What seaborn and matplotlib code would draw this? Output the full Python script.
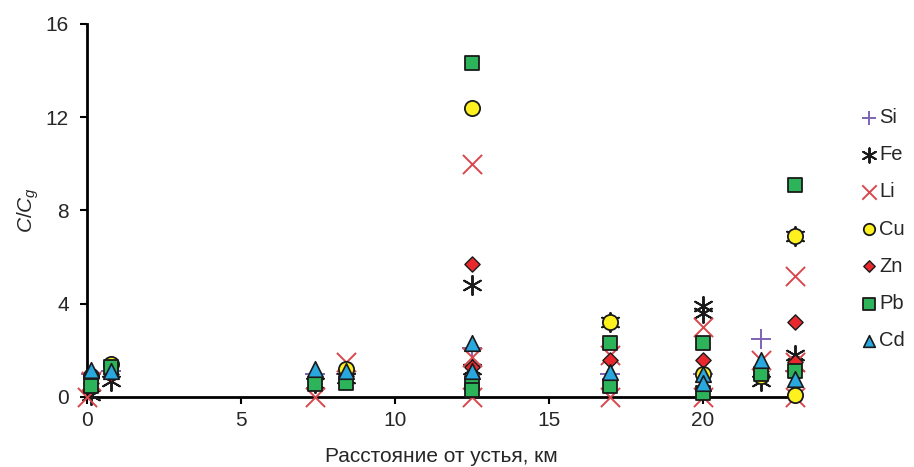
import pandas as pd
import matplotlib.pyplot as plt
import seaborn as sns

# concentrations C/Cg by distance from the river mouth (km)
si_x = [0.15, 0.8, 7.4, 8.4, 12.5, 17.0, 20.0, 21.9, 23.0]
si_y = [1.0, 1.1, 1.0, 1.0, 2.1, 1.0, 1.0, 2.5, 1.1]

fe_x = [0.15, 0.8, 7.4, 8.4, 12.5, 12.5, 17.0, 20.0, 20.0, 21.9, 23.0, 23.0]
fe_y = [0.1, 0.7, 0.6, 0.8, 4.8, 1.2, 3.2, 3.9, 3.6, 0.7, 6.9, 1.8]

li_x = [0.0, 0.15, 7.4, 8.4, 12.5, 12.5, 12.5, 17.0, 17.0, 20.0, 20.0, 21.9, 23.0, 23.0, 23.0]
li_y = [0.0, 0.7, 0.0, 1.5, 10.0, 1.7, 0.0, 1.8, 0.0, 3.0, 0.0, 1.6, 5.2, 1.5, 0.0]

cu_x = [0.15, 0.8, 8.4, 12.5, 17.0, 20.0, 21.9, 23.0, 23.0]
cu_y = [0.9, 1.4, 1.2, 12.4, 3.2, 1.0, 0.9, 6.9, 0.1]

zn_x = [0.15, 0.8, 7.4, 8.4, 12.5, 12.5, 17.0, 20.0, 21.9, 23.0, 23.0]
zn_y = [0.6, 1.0, 0.8, 0.9, 5.7, 1.3, 1.6, 1.6, 1.1, 3.2, 1.5]

pb_x = [0.15, 0.8, 7.4, 8.4, 12.5, 12.5, 12.5, 17.0, 17.0, 20.0, 20.0, 21.9, 23.0, 23.0]
pb_y = [0.45, 1.3, 0.55, 0.6, 14.3, 0.6, 0.3, 2.3, 0.45, 2.3, 0.15, 1.0, 9.1, 1.1]

cd_x = [0.15, 0.8, 7.4, 8.4, 12.5, 12.5, 17.0, 20.0, 20.0, 21.9, 23.0]
cd_y = [1.15, 1.1, 1.2, 1.1, 2.3, 1.1, 1.05, 1.0, 0.6, 1.6, 0.75]

sns.set_style("white")
plt.rcParams["font.family"] = ["Liberation Sans", "DejaVu Sans"]
plt.rcParams["mathtext.fontset"] = "custom"
plt.rcParams["mathtext.it"] = "Liberation Sans:italic"
plt.rcParams["mathtext.rm"] = "Liberation Sans"

fig = plt.figure(figsize=(9.14, 4.67), dpi=100)
ax = fig.add_axes([0.095, 0.15, 0.775, 0.799])

# element -> (x, y, marker, face, edge, size, linewidth)
styles = [
    ("Si", si_x, si_y, "+", "#7E63B5", None, 200, 1.4),
    ("Fe", fe_x, fe_y, (6, 2, 0), "#1a1a1a", None, 190, 1.4),
    ("Li", li_x, li_y, "x", "#D9474C", None, 190, 1.4),
    ("Cu", cu_x, cu_y, "o", "#FFF01F", "#1a1a1a", 120, 1.3),
    ("Zn", zn_x, zn_y, "D", "#E8282C", "#1a1a1a", 60, 1.0),
    ("Pb", pb_x, pb_y, "s", "#2DB35A", "#1a1a1a", 115, 1.3),
    ("Cd", cd_x, cd_y, "^", "#29A8E0", "#1a1a1a", 125, 1.2),
]

for name, xs, ys, mk, face, edge, s, lw in styles:
    df = pd.DataFrame({"dist": xs, "val": ys})
    if edge is None:
        sns.scatterplot(data=df, x="dist", y="val", marker=mk, color=face,
                        s=s, linewidth=lw, ax=ax, label=name, clip_on=False, zorder=3)
    else:
        sns.scatterplot(data=df, x="dist", y="val", marker=mk, color=face,
                        edgecolor=edge, s=s, linewidth=lw, ax=ax, label=name,
                        clip_on=False, zorder=3)

ax.set_xlim(0, 23)
ax.set_ylim(0, 16)
ax.set_xticks([0, 5, 10, 15, 20])
ax.set_yticks([0, 4, 8, 12, 16])
ax.set_xlabel("Расстояние от устья, км", fontsize=15, labelpad=12)
ax.set_ylabel("$C/C_g$", fontsize=15, labelpad=3)
ax.tick_params(axis="both", labelsize=15, direction="out", length=5, width=1.5,
               color="black", bottom=True, left=True)
ax.tick_params(axis="y", pad=8)
ax.tick_params(axis="x", pad=5)
sns.despine(ax=ax)
for sp in ["left", "bottom"]:
    ax.spines[sp].set_linewidth(2)
    ax.spines[sp].set_color("black")

ax.legend(loc="center left", bbox_to_anchor=(1.08, 0.45), frameon=False,
          fontsize=14.5, markerscale=0.75, handletextpad=0.05, handlelength=0.9,
          labelspacing=0.9, borderaxespad=0)

fig.savefig("out.png", dpi=100)
